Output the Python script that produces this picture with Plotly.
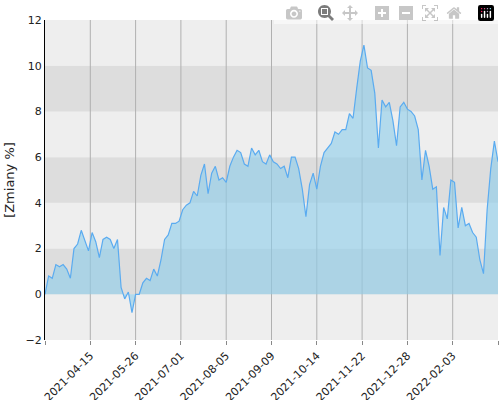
import plotly.graph_objects as go

tick_labels = ["2021-03-09","2021-04-15","2021-05-26","2021-07-01","2021-08-05","2021-09-09",
               "2021-10-14","2021-11-22","2021-12-28","2022-02-03","2022-03-10"]
values = [0, 0.8, 0.7, 1.3, 1.2, 1.3, 1.1, 0.7, 2.0, 2.2, 2.8, 2.3, 1.9,
          2.7, 2.3, 1.6, 2.4, 2.5, 2.4, 2.0, 2.4, 0.3, -0.2, 0.1, -0.8, 0.0,
          0.0, 0.5, 0.7, 0.6, 1.1, 0.8, 1.5, 2.4, 2.6, 3.1, 3.1, 3.2, 3.7,
          3.9, 4.0, 4.5, 4.3, 5.2, 5.7, 4.4, 5.3, 5.6, 5.0, 5.1, 4.9,
          5.6, 6.0, 6.3, 6.2, 5.7, 5.6, 6.4, 6.1, 6.3, 5.8, 5.7, 6.1, 5.8,
          5.7, 5.5, 5.6, 5.1, 6.0, 6.0, 5.5, 4.6, 3.4, 4.8, 5.3, 4.6,
          5.6, 6.2, 6.4, 6.6, 7.1, 7.0, 7.2, 7.2, 7.9, 7.7, 9.0, 10.2, 10.9,
          9.9, 9.8, 8.8, 6.4, 8.5, 8.2, 8.4, 7.6, 6.5, 8.2, 8.4, 8.1,
          8.0, 7.8, 7.2, 5.0, 6.3, 5.6, 4.6, 4.7, 1.7, 3.8, 3.3, 5.0, 4.9,
          2.9, 3.8, 3.0, 3.1, 2.7, 2.5, 1.5, 0.9, 3.7, 5.5, 6.7, 5.8]
x = list(range(0, 2 * len(values), 2))
tick_pos = list(range(0, 251, 25))

fig = go.Figure()
bands = [(-2, 0, "#eeeeee"), (0, 2, "#dddddd"), (2, 4, "#eeeeee"), (4, 6, "#dddddd"),
         (6, 8, "#eeeeee"), (8, 10, "#dddddd"), (10, 12, "#eeeeee")]
for y0, y1, c in bands:
    fig.add_shape(type="rect", xref="paper", yref="y", x0=0, x1=1, y0=y0, y1=y1,
                  fillcolor=c, line_width=0, layer="below")
for t in tick_pos[1:-1]:
    fig.add_shape(type="line", xref="x", yref="paper", x0=t, x1=t, y0=0, y1=1,
                  line=dict(color="#b0b0b0", width=1), layer="below")

fig.add_trace(go.Scatter(x=x, y=values, mode="lines", fill="tozeroy",
                         line=dict(color="#5aabf0", width=1.2),
                         fillcolor="rgba(140,205,235,0.6)"))
fig.update_layout(width=500, height=400, margin=dict(l=45, r=2, t=20, b=60, autoexpand=False),
                  plot_bgcolor="#eeeeee", paper_bgcolor="white", showlegend=False,
                  font=dict(family="DejaVu Sans", size=11, color="#222"))
fig.update_xaxes(range=[0, 250], tickvals=tick_pos, ticktext=tick_labels, tickangle=-45,
                 showgrid=False, zeroline=False, ticks="outside", ticklen=4, tickcolor="#888",
                 automargin=False)
fig.update_yaxes(range=[-2, 12], dtick=2, showgrid=False, zeroline=False, automargin=False,
                 showline=True, linecolor="black", title=dict(text="[Zmiany %]", standoff=8))
fig.write_html("out.html", post_script="document.body.style.margin='0';document.body.style.overflow='hidden';")
